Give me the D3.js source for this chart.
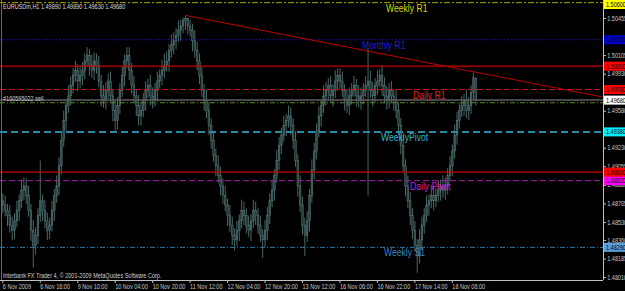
<!DOCTYPE html>
<html>
<head>
<meta charset="utf-8">
<title>EURUSDm,H1</title>
<script src="https://d3js.org/d3.v7.min.js"></script>
<style>
  body { margin: 0; background: #000; }
  svg { display: block; }
  #chart text { font-family: "Liberation Sans", Arial, sans-serif; }
</style>
</head>
<body>
<svg id="chart" width="625" height="291"></svg>
<script>
// EURUSDm H1 bars, 6 Nov - 18 Nov 2009
var opens = [
  1.4873,1.4869,1.4864,1.4859,1.4850,1.4845,1.4854,1.4864,1.4873,1.4883,
  1.4887,1.4878,1.4864,1.4845,1.4831,1.4840,1.4859,1.4873,1.4864,1.4854,
  1.4845,1.4850,1.4864,1.4878,1.4887,1.4906,1.4930,1.4949,1.4963,1.4972,
  1.4982,1.4991,1.4996,1.4986,1.4991,1.4996,1.5005,1.5010,1.5001,1.4996,
  1.5005,1.5001,1.4986,1.4972,1.4968,1.4977,1.4986,1.4972,1.4958,1.4949,
  1.4963,1.4977,1.4991,1.5005,1.5010,1.4996,1.4982,1.4972,1.4963,1.4953,
  1.4958,1.4968,1.4977,1.4982,1.4972,1.4968,1.4977,1.4986,1.4991,1.4996,
  1.5001,1.5005,1.5015,1.5020,1.5024,1.5029,1.5034,1.5038,1.5043,1.5045,
  1.5038,1.5034,1.5024,1.5015,1.5005,1.4991,1.4977,1.4968,1.4958,1.4944,
  1.4930,1.4916,1.4906,1.4897,1.4887,1.4878,1.4869,1.4859,1.4850,1.4840,
  1.4836,1.4845,1.4854,1.4864,1.4859,1.4850,1.4845,1.4854,1.4864,1.4859,
  1.4850,1.4840,1.4836,1.4845,1.4859,1.4873,1.4883,1.4897,1.4911,1.4925,
  1.4935,1.4944,1.4949,1.4953,1.4944,1.4930,1.4911,1.4887,1.4869,1.4850,
  1.4840,1.4854,1.4878,1.4902,1.4920,1.4939,1.4953,1.4963,1.4972,1.4977,
  1.4982,1.4972,1.4977,1.4986,1.4991,1.4986,1.4977,1.4968,1.4963,1.4972,
  1.4977,1.4982,1.4972,1.4968,1.4972,1.4977,1.4982,1.4986,1.4977,1.4972,
  1.4982,1.4986,1.4991,1.4982,1.4972,1.4968,1.4977,1.4972,1.4968,1.4958,
  1.4944,1.4925,1.4906,1.4887,1.4873,1.4859,1.4845,1.4831,1.4821,1.4836,
  1.4850,1.4859,1.4869,1.4873,1.4878,1.4873,1.4878,1.4883,1.4887,1.4883,
  1.4887,1.4897,1.4906,1.4920,1.4935,1.4949,1.4958,1.4963,1.4968,1.4958,
  1.4963,1.4975,1.4989
];
var highs = [
  1.4880,1.4878,1.4870,1.4869,1.4858,1.4861,1.4873,1.4879,1.4893,1.4895,
  1.4894,1.4887,1.4870,1.4855,1.4848,1.4866,1.4911,1.4879,1.4874,1.4862,
  1.4857,1.4873,1.4884,1.4897,1.4914,1.4937,1.4958,1.4969,1.4982,1.4990,
  1.4998,1.5005,1.5002,1.5001,1.5004,1.5012,1.5018,1.5016,1.5011,1.5013,
  1.5012,1.5010,1.4992,1.4982,1.4985,1.4993,1.4995,1.4978,1.4968,1.4971,
  1.4984,1.5000,1.5011,1.5018,1.5018,1.5003,1.4991,1.4978,1.4973,1.4966,
  1.4975,1.4986,1.4988,1.4992,1.4980,1.4984,1.4995,1.4997,1.5006,1.5012,
  1.5014,1.5021,1.5030,1.5032,1.5036,1.5043,1.5044,1.5046,1.5048,1.5046,
  1.5044,1.5040,1.5034,1.5023,1.5012,1.5000,1.4983,1.4978,1.4966,1.4951,
  1.4939,1.4922,1.4916,1.4905,1.4894,1.4887,1.4875,1.4869,1.4858,1.4847,
  1.4854,1.4860,1.4874,1.4872,1.4866,1.4859,1.4860,1.4874,1.4872,1.4866,
  1.4859,1.4846,1.4855,1.4867,1.4880,1.4892,1.4903,1.4921,1.4933,1.4942,
  1.4953,1.4955,1.4963,1.4961,1.4951,1.4939,1.4917,1.4897,1.4877,1.4857,
  1.4863,1.4884,1.4912,1.4928,1.4946,1.4962,1.4969,1.4982,1.4985,1.4989,
  1.4991,1.4983,1.4996,1.4998,1.4998,1.4995,1.4983,1.4978,1.4980,1.4984,
  1.4991,1.4988,1.4982,1.4980,1.4984,1.4991,1.5017,1.4996,1.4985,1.4989,
  1.4996,1.4997,1.5001,1.4990,1.4981,1.4984,1.4986,1.4978,1.4978,1.4966,
  1.4951,1.4934,1.4912,1.4897,1.4881,1.4866,1.4854,1.4837,1.4846,1.4858,
  1.4866,1.4878,1.4879,1.4888,1.4886,1.4885,1.4892,1.4893,1.4897,1.4895,
  1.4904,1.4915,1.4926,1.4945,1.4957,1.4965,1.4972,1.4974,1.4978,1.4971,
  1.4982,1.4994,1.4989
];
var lows = [
  1.4861,1.4858,1.4849,1.4843,1.4836,1.4837,1.4848,1.4854,1.4866,1.4874,
  1.4870,1.4858,1.4835,1.4810,1.4822,1.4832,1.4853,1.4854,1.4847,1.4836,
  1.4837,1.4844,1.4854,1.4871,1.4878,1.4898,1.4924,1.4939,1.4956,1.4963,
  1.4974,1.4985,1.4976,1.4979,1.4982,1.4988,1.4999,1.4991,1.4989,1.4987,
  1.4993,1.4980,1.4962,1.4961,1.4959,1.4969,1.4966,1.4948,1.4939,1.4940,
  1.4955,1.4971,1.4981,1.4998,1.4987,1.4974,1.4966,1.4953,1.4944,1.4944,
  1.4952,1.4958,1.4970,1.4963,1.4960,1.4962,1.4967,1.4979,1.4982,1.4989,
  1.4995,1.4995,1.5008,1.5011,1.5016,1.5023,1.5024,1.5031,1.5034,1.5030,
  1.5028,1.5014,1.5008,1.4996,1.4983,1.4971,1.4958,1.4951,1.4935,1.4922,
  1.4910,1.4896,1.4890,1.4878,1.4870,1.4863,1.4849,1.4843,1.4831,1.4826,
  1.4830,1.4835,1.4847,1.4850,1.4842,1.4839,1.4835,1.4847,1.4850,1.4842,
  1.4834,1.4819,1.4829,1.4836,1.4851,1.4867,1.4873,1.4890,1.4902,1.4917,
  1.4929,1.4934,1.4942,1.4935,1.4922,1.4905,1.4877,1.4862,1.4841,1.4821,
  1.4834,1.4844,1.4871,1.4893,1.4912,1.4933,1.4943,1.4956,1.4963,1.4969,
  1.4966,1.4962,1.4970,1.4977,1.4978,1.4971,1.4958,1.4956,1.4954,1.4964,
  1.4971,1.4962,1.4961,1.4959,1.4964,1.4971,1.4878,1.4970,1.4962,1.4966,
  1.4973,1.4980,1.4972,1.4965,1.4959,1.4960,1.4966,1.4958,1.4951,1.4935,
  1.4917,1.4900,1.4877,1.4866,1.4850,1.4837,1.4825,1.4805,1.4814,1.4827,
  1.4842,1.4853,1.4859,1.4866,1.4864,1.4867,1.4872,1.4873,1.4876,1.4874,
  1.4879,1.4891,1.4896,1.4913,1.4926,1.4941,1.4952,1.4953,1.4951,1.4949,
  1.4955,1.4969,1.4963
];
var closes = [
  1.4869,1.4864,1.4859,1.4850,1.4845,1.4854,1.4864,1.4873,1.4883,1.4887,
  1.4878,1.4864,1.4845,1.4831,1.4840,1.4859,1.4873,1.4864,1.4854,1.4845,
  1.4850,1.4864,1.4878,1.4887,1.4906,1.4930,1.4949,1.4963,1.4972,1.4982,
  1.4991,1.4996,1.4986,1.4991,1.4996,1.5005,1.5010,1.5001,1.4996,1.5005,
  1.5001,1.4986,1.4972,1.4968,1.4977,1.4986,1.4972,1.4958,1.4949,1.4963,
  1.4977,1.4991,1.5005,1.5010,1.4996,1.4982,1.4972,1.4963,1.4953,1.4958,
  1.4968,1.4977,1.4982,1.4972,1.4968,1.4977,1.4986,1.4991,1.4996,1.5001,
  1.5005,1.5015,1.5020,1.5024,1.5029,1.5034,1.5038,1.5043,1.5045,1.5038,
  1.5034,1.5024,1.5015,1.5005,1.4991,1.4977,1.4968,1.4958,1.4944,1.4930,
  1.4916,1.4906,1.4897,1.4887,1.4878,1.4869,1.4859,1.4850,1.4840,1.4836,
  1.4845,1.4854,1.4864,1.4859,1.4850,1.4845,1.4854,1.4864,1.4859,1.4850,
  1.4840,1.4836,1.4845,1.4859,1.4873,1.4883,1.4897,1.4911,1.4925,1.4935,
  1.4944,1.4949,1.4953,1.4944,1.4930,1.4911,1.4887,1.4869,1.4850,1.4840,
  1.4854,1.4878,1.4902,1.4920,1.4939,1.4953,1.4963,1.4972,1.4977,1.4982,
  1.4972,1.4977,1.4986,1.4991,1.4986,1.4977,1.4968,1.4963,1.4972,1.4977,
  1.4982,1.4972,1.4968,1.4972,1.4977,1.4982,1.4986,1.4977,1.4972,1.4982,
  1.4986,1.4991,1.4982,1.4972,1.4968,1.4977,1.4972,1.4968,1.4958,1.4944,
  1.4925,1.4906,1.4887,1.4873,1.4859,1.4845,1.4831,1.4821,1.4836,1.4850,
  1.4859,1.4869,1.4873,1.4878,1.4873,1.4878,1.4883,1.4887,1.4883,1.4887,
  1.4897,1.4906,1.4920,1.4935,1.4949,1.4958,1.4963,1.4968,1.4958,1.4963,
  1.4975,1.4989,1.4968
];

// time axis: a label every 16 bars
var tickBars = [0, 16, 32, 48, 64, 80, 96, 112, 128, 144, 160, 176, 192];
var tickLabels = ["6 Nov 2009", "6 Nov 16:00", "9 Nov 10:00", "10 Nov 04:00", "10 Nov 20:00",
  "11 Nov 12:00", "12 Nov 04:00", "12 Nov 20:00", "13 Nov 12:00", "16 Nov 06:00",
  "16 Nov 22:00", "17 Nov 14:00", "18 Nov 06:00"];
var priceTicks = [1.50455, 1.50280, 1.50105, 1.49930, 1.49755, 1.49580, 1.49405, 1.49230,
  1.49055, 1.48880, 1.48705, 1.48530, 1.48360, 1.48185, 1.48010];

// pivot levels
var levelNames = ["Weekly R1", "Monthly R1", "Daily R1", "WeeklyPivot", "Daily Pivot", "Weekly S1"];
var levelPrices = [1.50600, 1.50250, 1.49780, 1.49380, 1.48920, 1.48290];
var roundLevels = [1.50000, 1.49000];
var bidPrice = 1.49680;
var orderPrice = 1.49655;
var orderLabel = "#160595022 sell";
var trendBars = [78, 256];
var trendPrices = [1.5048, 1.4971];

var titleText = "EURUSDm,H1  1.49890 1.49890 1.49630 1.49680";
var footerText = "Interbank FX Trader 4, \u00a9 2001-2009 MetaQuotes Software Corp.";

// look of each level
var levelStyle = {
  "Weekly R1":   { line: "#a8a800", dash: "6,2,2,2", w: 1, text: "#d8d800", box: "#ffff00", lx: 386 },
  "Monthly R1":  { line: "#1414c8", dash: "1.5,2",   w: 1, text: "#2020d8", box: "#0000d0", lx: 362 },
  "Daily R1":    { line: "#c81818", dash: "6,3",     w: 1, text: "#e02020", box: "#ff0000", lx: 413 },
  "WeeklyPivot": { line: "#2a88a8", dash: "7,4",     w: 2, text: "#30b8d8", box: "#00f0ff", lx: 381 },
  "Daily Pivot": { line: "#a020a8", dash: "6,3",     w: 1, text: "#d020d8", box: "#ff00ff", lx: 410 },
  "Weekly S1":   { line: "#2f78a8", dash: "5,2,1,2", w: 1, text: "#3a86bf", box: "#5aa0e0", lx: 384 }
};

var plotLeft = 2, plotRight = 603, plotTop = 0, plotBottom = 280;

var svg = d3.select("#chart");
svg.append("rect").attr("width", 625).attr("height", 291).attr("fill", "#000");

var x = d3.scaleBand()
  .domain(d3.range(257))
  .range([plotLeft, plotRight])
  .paddingInner(0.3)
  .paddingOuter(0);

var y = d3.scaleLinear()
  .domain([1.47982, 1.50625])
  .range([plotBottom, plotTop]);

svg.append("clipPath").attr("id", "plot")
  .append("rect").attr("x", 0).attr("y", 0).attr("width", plotRight).attr("height", plotBottom);

var plot = svg.append("g").attr("clip-path", "url(#plot)");

var candles = closes.map(function(c, i) {
  return { i: i, o: opens[i], h: highs[i], l: lows[i], c: c };
});

// wicks
plot.append("g").selectAll("line")
  .data(candles)
  .join("line")
  .attr("x1", function(d) { return x(d.i) + x.bandwidth() / 2; })
  .attr("x2", function(d) { return x(d.i) + x.bandwidth() / 2; })
  .attr("y1", function(d) { return y(d.h); })
  .attr("y2", function(d) { return y(d.l); })
  .attr("stroke", "#4a6868")
  .attr("stroke-width", 1);

// bodies
plot.append("g").selectAll("rect")
  .data(candles)
  .join("rect")
  .attr("x", function(d) { return x(d.i); })
  .attr("width", x.bandwidth())
  .attr("y", function(d) { return y(Math.max(d.o, d.c)); })
  .attr("height", function(d) { return Math.max(1, Math.abs(y(d.o) - y(d.c))); })
  .attr("fill", function(d) { return d.c >= d.o ? "#2f4f4f" : "#223a3a"; })
  .attr("stroke", "#5d7b7b")
  .attr("stroke-width", 0.5);

// pivot lines
levelNames.forEach(function(name, k) {
  var s = levelStyle[name];
  plot.append("line")
    .attr("x1", 0).attr("x2", plotRight)
    .attr("y1", y(levelPrices[k])).attr("y2", y(levelPrices[k]))
    .attr("stroke", s.line)
    .attr("stroke-width", s.w)
    .attr("stroke-dasharray", s.dash);
});

roundLevels.forEach(function(p) {
  plot.append("line")
    .attr("x1", 0).attr("x2", plotRight)
    .attr("y1", y(p)).attr("y2", y(p))
    .attr("stroke", "#c80000")
    .attr("stroke-width", 1.2);
});

// bid and order lines
plot.append("line")
  .attr("x1", 0).attr("x2", plotRight)
  .attr("y1", y(bidPrice)).attr("y2", y(bidPrice))
  .attr("stroke", "#5e5e5e").attr("stroke-width", 1.5);

plot.append("line")
  .attr("x1", 0).attr("x2", plotRight)
  .attr("y1", y(orderPrice)).attr("y2", y(orderPrice))
  .attr("stroke", "#5c8c28").attr("stroke-width", 1)
  .attr("stroke-dasharray", "5,2,1,2");

// trend line
plot.append("line")
  .attr("x1", x(trendBars[0]) + x.bandwidth() / 2)
  .attr("y1", y(trendPrices[0]))
  .attr("x2", x(trendBars[1]) + x.bandwidth() / 2)
  .attr("y2", y(trendPrices[1]))
  .attr("stroke", "#c00000").attr("stroke-width", 1);

// level names on the chart
levelNames.forEach(function(name, k) {
  var s = levelStyle[name];
  svg.append("text")
    .attr("transform", "translate(" + s.lx + "," + (y(levelPrices[k]) + 9) + ") scale(0.82,1)")
    .attr("fill", s.text)
    .style("font-size", "10.5px")
    .text(name);
});

// small texts
function smallText(tx, ty, str, fill) {
  svg.append("text")
    .attr("transform", "translate(" + tx + "," + ty + ") scale(0.85,1)")
    .attr("fill", fill)
    .style("font-size", "6.5px")
    .text(str);
}
smallText(3, 8.5, titleText, "#d8d8d8");
smallText(3, 277.5, footerText, "#d0d0d0");
smallText(3, 101, orderLabel, "#c8c8c8");

// frame
svg.append("line").attr("x1", 1.5).attr("x2", 1.5).attr("y1", 0).attr("y2", plotBottom)
  .attr("stroke", "#6a6a6a");

// coloured price tags on the axis
var tags = levelNames.map(function(name, k) {
  return { p: levelPrices[k], box: levelStyle[name].box };
});
roundLevels.forEach(function(p) { tags.push({ p: p, box: "#ff0000" }); });
tags.push({ p: bidPrice, box: "#ffffff" });

// price axis
var yAxis = svg.append("g")
  .attr("transform", "translate(" + plotRight + ",0)")
  .call(d3.axisRight(y).tickValues(priceTicks).tickFormat(d3.format(".5f")).tickSize(3).tickPadding(1));
yAxis.select(".domain").attr("stroke", "#c0c0c0").attr("d", "M0.5," + plotTop + "V" + plotBottom);
yAxis.selectAll(".tick line").attr("stroke", "#c0c0c0");
yAxis.selectAll(".tick text")
  .attr("fill", "#c8c8c8")
  .style("font-size", "6.5px")
  .attr("transform", "scale(0.85,1)")
  .attr("x", 5)
  .style("display", function(d) {
    // tick labels sitting under a tag are hidden, as in the terminal
    var hidden = tags.some(function(t) { return Math.abs(y(t.p) - y(d)) < 4; });
    return hidden ? "none" : null;
  });

// time axis
var xAxis = svg.append("g")
  .attr("transform", "translate(0," + plotBottom + ")")
  .call(d3.axisBottom(x).tickValues(tickBars)
    .tickFormat(function(d, k) { return tickLabels[k]; })
    .tickSize(3).tickPadding(1.5));
xAxis.select(".domain").attr("stroke", "#c0c0c0").attr("d", "M0,0.5H" + plotRight);
xAxis.selectAll(".tick line").attr("stroke", "#c0c0c0");
xAxis.selectAll(".tick text")
  .attr("fill", "#c8c8c8")
  .attr("text-anchor", "start")
  .style("font-size", "6.5px")
  .attr("transform", "scale(0.85,1)");

var tag = svg.append("g").selectAll("g")
  .data(tags)
  .join("g")
  .attr("transform", function(d) {
    var ty = Math.min(plotBottom - 9, Math.max(0, y(d.p) - 4.5));
    return "translate(" + (plotRight + 1) + "," + ty + ")";
  });
tag.append("rect")
  .attr("width", 22).attr("height", 9)
  .attr("fill", function(d) { return d.box; });
tag.append("text")
  .attr("transform", "translate(2,7) scale(0.85,1)")
  .attr("fill", "#000")
  .style("font-size", "6.5px")
  .text(function(d) { return d3.format(".5f")(d.p); });
</script>
</body>
</html>
